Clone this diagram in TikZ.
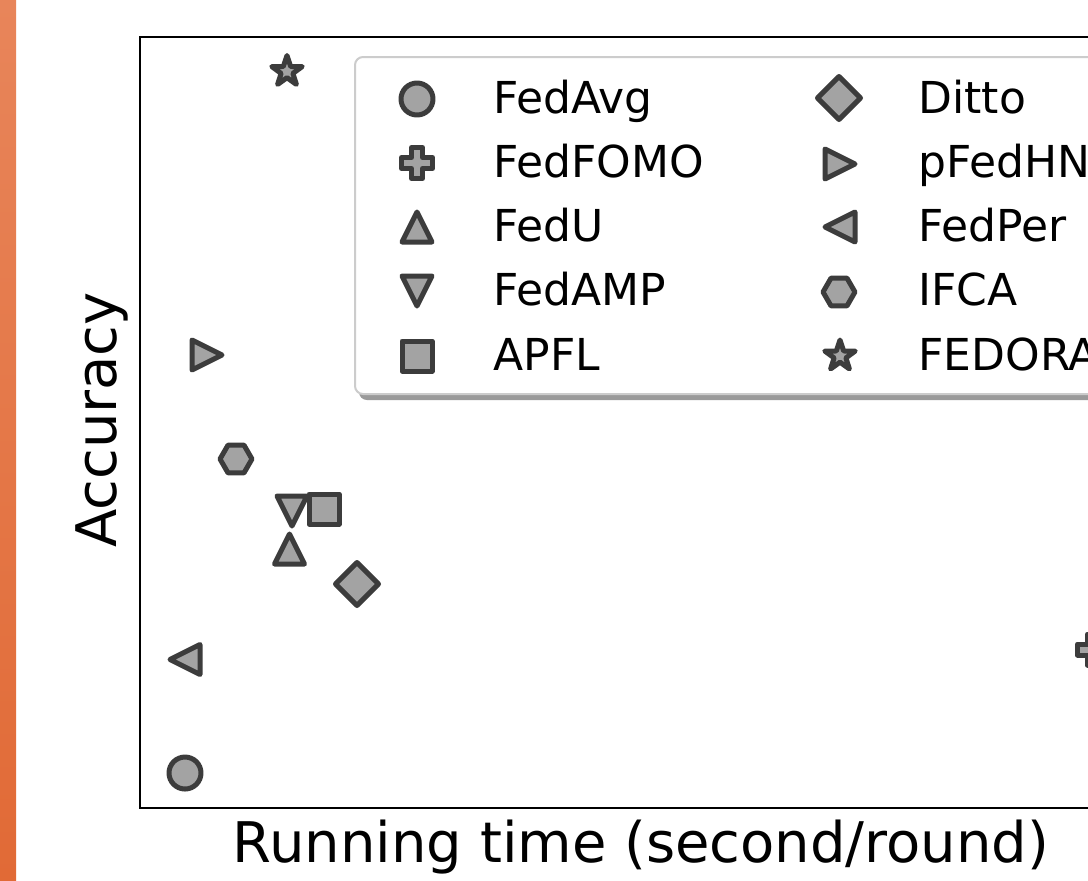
\documentclass[tikz,border=0pt]{standalone}
\usepackage{fontspec}
\setmainfont{DejaVu Sans}
\usetikzlibrary{positioning}
\definecolor{mkfill}{HTML}{A3A3A3}
\definecolor{mkedge}{HTML}{3C3C3C}
\definecolor{legedge}{HTML}{CCCCCC}
\definecolor{legshadow}{HTML}{9A9A9A}
\definecolor{stripup}{HTML}{E8855A}
\definecolor{stripdown}{HTML}{E16A36}
\tikzset{
    mkr/.style={
        draw=mkedge,
        fill=mkfill,
        line width=2.5pt,
        line join=round
    },
    legtext/.style={
        inner sep=0pt,
        anchor=base west,
        font=\fontsize{22}{26}\selectfont
    },
    axlabel/.style={
        inner sep=0pt,
        anchor=base,
        font=\fontsize{28}{33}\selectfont
    },
    m circ/.pic={\path[mkr] (0,0) circle[radius=16];},
    m sq/.pic={\path[mkr] (-15,-15) rectangle (15,15);},
    m up/.pic={\path[mkr] (0,-15) -- (15,15) -- (-15,15) -- cycle;},
    m down/.pic={\path[mkr] (0,15) -- (15,-15) -- (-15,-15) -- cycle;},
    m left/.pic={\path[mkr] (-15,0) -- (15,-15) -- (15,15) -- cycle;},
    m right/.pic={\path[mkr] (15,0) -- (-15,-15) -- (-15,15) -- cycle;},
    m diam/.pic={\path[mkr] (0,-21.5) -- (21.5,0) -- (0,21.5) -- (-21.5,0) -- cycle;},
    m hex/.pic={\path[mkr] (0:16) -- (60:16) -- (120:16) -- (180:16) -- (240:16) -- (300:16) -- cycle;},
    m star/.pic={\path[mkr] (-90:16) -- (-54:6.2) -- (-18:16) -- (18:6.2) -- (54:16)
        -- (90:6.2) -- (126:16) -- (162:6.2) -- (198:16) -- (234:6.2) -- cycle;},
    m plus/.pic={\path[mkr] (-5.5,-15.5) -- (5.5,-15.5) -- (5.5,-5.5) -- (15.5,-5.5)
        -- (15.5,5.5) -- (5.5,5.5) -- (5.5,15.5) -- (-5.5,15.5) -- (-5.5,5.5)
        -- (-15.5,5.5) -- (-15.5,-5.5) -- (-5.5,-5.5) -- cycle;}
}
\begin{document}
\begin{tikzpicture}[x=0.5pt, y=-0.5pt]
\useasboundingbox (0,0) rectangle (1088,880);
\fill[white] (0,0) rectangle (1088,880);
\clip (0,0) rectangle (1088,880);

% side strip
\shade[top color=stripup, bottom color=stripdown] (0,0) rectangle (16,880);

% axes frame
\draw[line width=1pt] (1150,37) -- (140,37) -- (140,808) -- (1150,808);

% labels
\node[axlabel] (xlab) at (641,862) {Running time (second/round)};
\node[axlabel, rotate=90] (ylab) at (116,420) {Accuracy};

% data points
\pic (pavg) at (185,773) {m circ};
\pic (pfomo) at (1093,649.5) {m plus};
\pic (pfedu) at (289.5,549) {m up};
\pic (pamp) at (292,511) {m down};
\pic (papfl) at (324,509) {m sq};
\pic (pditto) at (357,584) {m diam};
\pic (phn) at (207,355) {m right};
\pic (pper) at (185,659.5) {m left};
\pic (pifca) at (236,459) {m hex};
\pic (pfedora) at (287,71.5) {m star};

% legend
\fill[legshadow, rounded corners=4pt] (359,62) rectangle (1200,400);
\draw[legedge, fill=white, line width=1pt, rounded corners=4pt] (355,57) rectangle (1200,394);

\pic (lavg) at (417,99) {m circ};
\pic (lfomo) at (417,163) {m plus};
\pic (lfedu) at (417,227) {m up};
\pic (lamp) at (417,291) {m down};
\pic (lapfl) at (417,356) {m sq};
\pic (lditto) at (839,98) {m diam};
\pic (lhn) at (840,164) {m right};
\pic (lper) at (840,227) {m left};
\pic (lifca) at (839,292) {m hex};
\pic (lfedora) at (840,356) {m star};

\node[legtext] (tavg) at (493,113.5) {FedAvg};
\node[legtext] (tfomo) at (493,177.5) {FedFOMO};
\node[legtext] (tfedu) at (493,241.5) {FedU};
\node[legtext] (tamp) at (493,305.5) {FedAMP};
\node[legtext] (tapfl) at (493,370.5) {APFL};
\node[legtext] (tditto) at (918,113.5) {Ditto};
\node[legtext] (thn) at (918,177.5) {pFedHN};
\node[legtext] (tper) at (918,241.5) {FedPer};
\node[legtext] (tifca) at (918,305.5) {IFCA};
\node[legtext] (tfedora) at (918,370.5) {FEDORA};

\end{tikzpicture}
\end{document}
